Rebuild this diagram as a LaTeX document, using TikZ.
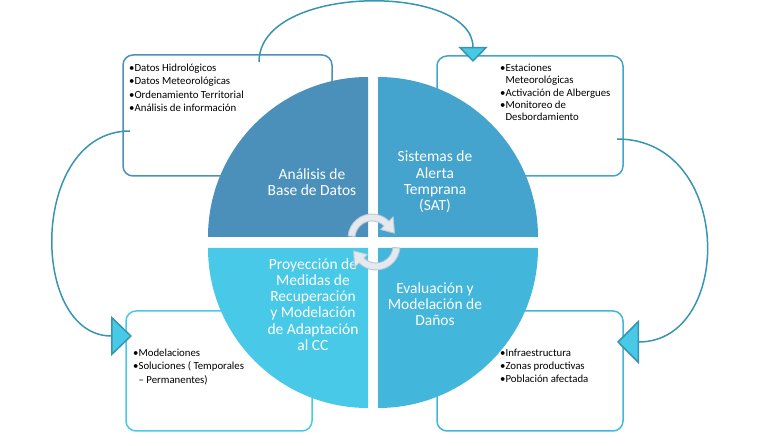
\documentclass[tikz,border=0pt]{standalone}
\usepackage{fontspec}
\setmainfont{Carlito}
\usetikzlibrary{arrows.meta}

\definecolor{cAnalisis}{HTML}{4A90BA}
\definecolor{cAlerta}{HTML}{44A4CD}
\definecolor{cProyeccion}{HTML}{48C9E8}
\definecolor{cDanos}{HTML}{43B6DC}
\definecolor{cEnlace}{HTML}{3895B0}
\definecolor{cPunta}{HTML}{48C9E6}
\definecolor{cGiroFill}{HTML}{E4E9EF}
\definecolor{cGiroBorde}{HTML}{BAC5D1}

\begin{document}
\begin{tikzpicture}[x=1pt, y=1pt,
  caja/.style={draw, line width=1.5pt, rounded corners=10pt,
    minimum width=186pt, minimum height=120pt, inner sep=0pt},
  lista/.style={anchor=north west, align=left, inner sep=0pt,
    font=\fontsize{10.8}{13.2}\selectfont},
  cuadro/.style={text=white, align=center,
    font=\fontsize{15.5}{16.3}\selectfont},
  enlace/.style={draw=cEnlace, line width=1.5pt},
  flechaC/.style={fill=cGiroFill, draw=cGiroBorde, line width=0.9pt, line join=round}]
  \useasboundingbox (0,0) rectangle (777,446);

  % cajas
  \node[caja, draw=cAnalisis, minimum width=209pt, minimum height=121pt] (cajaAnalisis) at (227.5,330.5) {};
  \node[caja, draw=cAlerta] (cajaAlerta) at (530,330) {};
  \node[caja, draw=cProyeccion] (cajaProyeccion) at (219,75) {};
  \node[caja, draw=cDanos] (cajaDanos) at (530,75) {};

  % listas
  \node[lista] (listaAnalisis) at (129,382) {\textbullet Datos Hidrológicos\\
    \textbullet Datos Meteorológicas\\ \textbullet Ordenamiento Territorial\\
    \textbullet Análisis de información};
  \node[lista, font=\fontsize{10.8}{12.3}\selectfont] (listaAlerta) at (500,382)
    {\textbullet Estaciones\\ \phantom{\textbullet}Meteorológicas\\
    \textbullet Activación de Albergues\\ \textbullet Monitoreo de\\
    \phantom{\textbullet}Desbordamiento};
  \node[lista] (listaProyeccion) at (133,97) {\textbullet Modelaciones\\
    \textbullet Soluciones ( Temporales\\ \phantom{\textbullet}– Permanentes)};
  \node[lista] (listaDanos) at (500,97) {\textbullet Infraestructura\\
    \textbullet Zonas productivas\\ \textbullet Población afectada};

  % enlaces curvos
  \coordinate (salAnalisis) at (259,384);
  \coordinate (entAlerta) at (473,384);
  \coordinate (salAnalisisIzq) at (130,315);
  \coordinate (entProyeccion) at (132,110);
  \coordinate (salAlerta) at (617,307);
  \coordinate (entDanos) at (617,104);
  \draw[enlace, -{Triangle[width=29pt, length=15pt, fill=cPunta]}]
    (salAnalisis) .. controls (259,463) and (473,463) .. (entAlerta);
  \draw[enlace, -{Triangle[width=40pt, length=21pt, fill=cPunta]}]
    (salAnalisisIzq) .. controls (29,315) and (29,110) .. (entProyeccion);
  \draw[enlace, -{Triangle[width=44pt, length=22pt, fill=cPunta]}]
    (salAlerta) .. controls (734,307) and (734,104) .. (entDanos);

  % cuadrantes
  \fill[cAnalisis] (368,209) -- ++(180:160) arc[start angle=180, end angle=90, radius=160] -- cycle;
  \fill[cAlerta] (378,209) -- ++(90:160) arc[start angle=90, end angle=0, radius=160] -- cycle;
  \fill[cDanos] (378,198) -- ++(0:160) arc[start angle=0, end angle=-90, radius=160] -- cycle;
  \fill[cProyeccion] (368,198) -- ++(270:160) arc[start angle=270, end angle=180, radius=160] -- cycle;

  \node[cuadro] (txtAnalisis) at (312,264) {Análisis de\\ Base de Datos};
  \node[cuadro] (txtAlerta) at (435,264) {Sistemas de\\ Alerta\\ Temprana\\ (SAT)};
  \node[cuadro] (txtDanos) at (435,142) {Evaluación y\\ Modelación de\\ Daños};
  \node[cuadro] (txtProyeccion) at (313,141.5) {Proyección de\\ Medidas de\\
    Recuperación\\ y Modelación\\ de Adaptación\\ al CC};

  % flechas de giro
  \foreach \giro in {0,180}
    \filldraw[flechaC, shift={(374,204)}, rotate=\giro, shift={(-2,4)}]
      (175:24) arc[start angle=175, end angle=45, radius=24] -- (45:30)
      -- (12:23) -- (45:12) -- (45:17) arc[start angle=45, end angle=175, radius=17] -- cycle;
\end{tikzpicture}
\end{document}
